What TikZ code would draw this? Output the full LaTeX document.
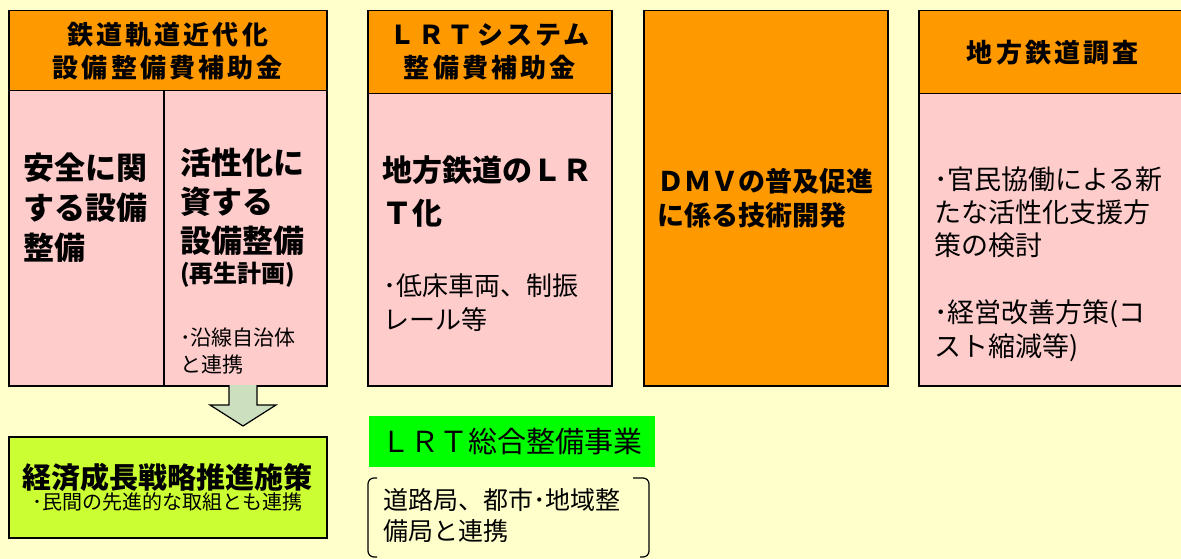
\documentclass[tikz,border=0pt]{standalone}
\usepackage{fontspec}
\setmainfont{Noto Sans CJK JP}
\newfontfamily\hdfont{Noto Sans CJK JP}[LetterSpace=12]
\usepackage{tikz}
\usetikzlibrary{positioning,calc}
\definecolor{bgyellow}{RGB}{255,255,204}
\definecolor{hdorange}{RGB}{255,153,0}
\definecolor{bodypink}{RGB}{255,204,204}
\definecolor{limegreen}{RGB}{204,255,51}
\definecolor{lrtgreen}{RGB}{0,255,0}
\definecolor{arrowgreen}{RGB}{204,224,192}
\newcommand{\fs}[2]{\fontsize{#1}{#2}\selectfont}
\newcommand{\lw}{1.5pt}

\begin{document}
\begin{tikzpicture}[x=1pt,y=-1pt,
  box/.style={draw,line width=\lw,anchor=north west,inner sep=0pt},
  hdr/.style={box,fill=hdorange,align=center,font=\hdfont\bfseries\fs{26}{33}},
  txt/.style={anchor=north west,inner sep=0pt,align=left}]
\fill[bgyellow] (0,0) rectangle (1181,559);
\useasboundingbox (0,0) rectangle (1181,559);
\clip (0,0) rectangle (1181,559);
%
\node[box,fill=bodypink,minimum width=318,minimum height=295] (b1) at (8,90) {};
\node[hdr,minimum width=318,minimum height=80]                (h1) at (8,10) {鉄道軌道近代化\\設備整備費補助金};
\draw[line width=\lw] ($(b1.north)+(-4,0)$) -- ($(b1.south)+(-4,0)$);
\node[txt,font=\bfseries\fs{31}{40}] (anzen)  at (23,153)  {安全に関\\する設備\\整備};
\node[txt,font=\bfseries\fs{31}{39}] (kassei) at (180,148) {活性化に\\資する\\設備整備};
\node[txt,font=\bfseries\fs{24}{28}] (saisei) at (180,262) {(再生計画)};
\node[txt,font=\fs{21}{27}]          (ensen)  at (180,328) {･沿線自治体\\と連携};
%
\node[box,fill=bodypink,minimum width=244,minimum height=292] (b2) at (367,93) {};
\node[hdr,minimum width=244,minimum height=83]                (h2) at (367,10) {ＬＲＴシステム\\整備費補助金};
\node[txt,font=\bfseries\fs{30}{43}] (lrtka) at (382,155) {地方鉄道のＬＲ\\Ｔ化};
\node[txt,font=\fs{26}{34}]          (teisho) at (383,273) {･低床車両、制振\\レール等};
%
\node[box,fill=hdorange,minimum width=244,minimum height=375,align=left,
      font=\bfseries\fs{27}{34}] (dmv) at (643,10) {ＤＭＶの普及促進\\に係る技術開発};
%
\node[box,fill=bodypink,minimum width=268,minimum height=292] (b4) at (918,93) {};
\node[hdr,minimum width=268,minimum height=83]                (h4) at (918,10) {地方鉄道調査};
\node[txt,font=\fs{27}{33}] (kanmin) at (934,167) {･官民協働による新\\たな活性化支援方\\策の検討};
\node[txt,font=\fs{27}{34}] (keiei)  at (934,300) {･経営改善方策(コ\\スト縮減等)};
%
\node[box,fill=limegreen,minimum width=318,minimum height=101,align=center] (senryaku) at (8,436)
  {{\bfseries\fs{29}{34}経済成長戦略推進施策}\\\fs{20}{28}･民間の先進的な取組とも連携};
\coordinate (ar) at (243,385);
\draw[fill=arrowgreen,line width=1.2pt] (ar) +(-14,0) -- +(-14,20) -- +(-33,20) -- +(0,41)
  -- +(33,20) -- +(14,20) -- +(14,0);
%
\node[box,draw=none,fill=lrtgreen,minimum width=286,minimum height=51,font=\fs{29}{34}] (lrt) at (368,415) {ＬＲＴ総合整備事業};
\node[txt,font=\fs{25}{31}] (renkei) at (383,488) {道路局、都市･地域整\\備局と連携};
\draw[line width=1.2pt,rounded corners=6] (377,478) -- (368,478) -- (368,557) -- (377,557);
\draw[line width=1.2pt,rounded corners=6] (633,478) -- (649,478) -- (649,557) -- (640,557);
\end{tikzpicture}
\end{document}
